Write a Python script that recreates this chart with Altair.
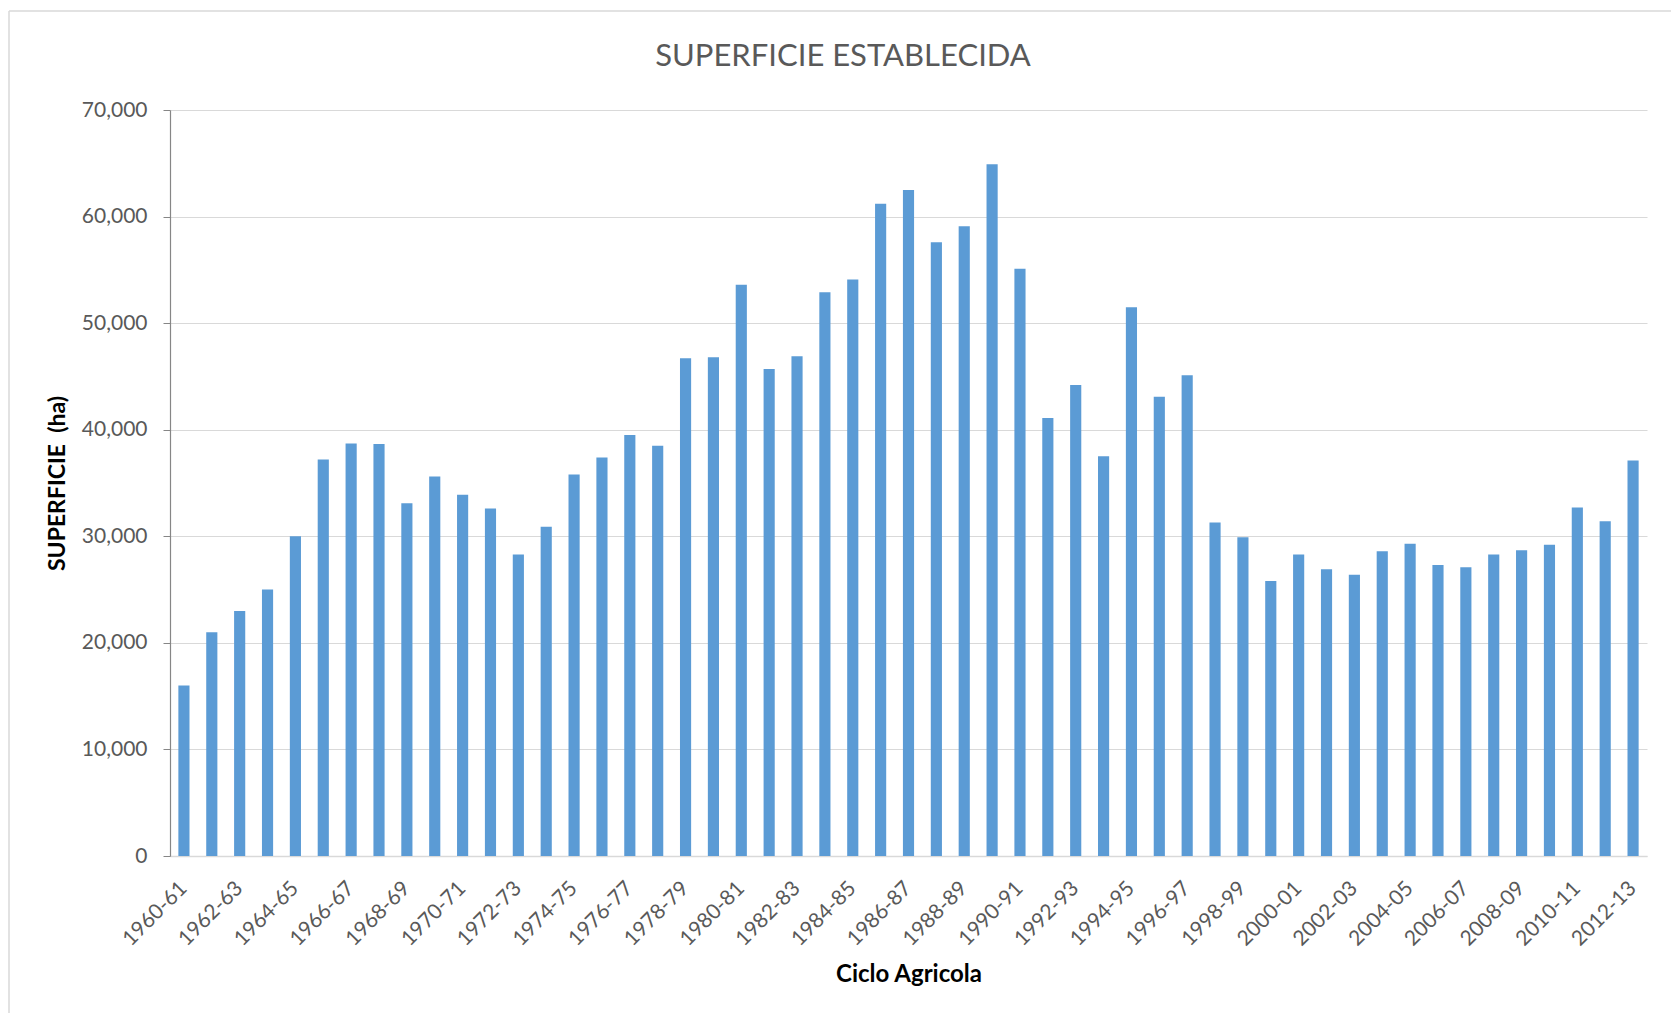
import altair as alt
import pandas as pd

ciclos = [
    "1960-61", "1961-62", "1962-63", "1963-64", "1964-65", "1965-66", "1966-67",
    "1967-68", "1968-69", "1969-70", "1970-71", "1971-72", "1972-73", "1973-74",
    "1974-75", "1975-76", "1976-77", "1977-78", "1978-79", "1979-80", "1980-81",
    "1981-82", "1982-83", "1983-84", "1984-85", "1985-86", "1986-87", "1987-88",
    "1988-89", "1989-90", "1990-91", "1991-92", "1992-93", "1993-94", "1994-95",
    "1995-96", "1996-97", "1997-98", "1998-99", "1999-00", "2000-01", "2001-02",
    "2002-03", "2003-04", "2004-05", "2005-06", "2006-07", "2007-08", "2008-09",
    "2009-10", "2010-11", "2011-12", "2012-13",
]
superficie = [
    16000, 21000, 23000, 25000, 30000, 37200, 38700, 38650, 33100, 35600,
    33900, 32600, 28300, 30900, 35800, 37400, 39500, 38500, 46700, 46800,
    53600, 45700, 46900, 52900, 54100, 61200, 62500, 57600, 59100, 64900,
    55100, 41100, 44200, 37500, 51500, 43100, 45100, 31300, 29900, 25800,
    28300, 26900, 26400, 28600, 29300, 27300, 27100, 28300, 28700, 29200,
    32700, 31400, 37100,
]
etiquetas_x = ciclos[::2]
ticks_y = [0, 10000, 20000, 30000, 40000, 50000, 60000, 70000]

titulo = "SUPERFICIE ESTABLECIDA"
titulo_x = "Ciclo Agricola"
titulo_y = "SUPERFICIE\u00a0\u00a0(ha)"

df = pd.DataFrame({"ciclo": ciclos, "superficie": superficie})

W, H = 1477, 746
FONT = "Lato"
GRAY_TXT = "#595959"

bars = alt.Chart(df).mark_bar(color="#5B9BD5").encode(
    x=alt.X(
        "ciclo:N",
        sort=ciclos,
        scale=alt.Scale(paddingInner=0.6, paddingOuter=0.3),
        axis=alt.Axis(
            values=etiquetas_x,
            labelAngle=-45,
            labelAlign="right",
            labelBaseline="middle",
            ticks=False,
            tickSize=0,
            labelPadding=29,
            labelFontSize=21,
            labelColor=GRAY_TXT,
            labelFont=FONT,
            domainColor="#D9D9D9",
            domainWidth=1.5,
            grid=False,
            title=titulo_x,
            titleX=W / 2,
            titleY=118,
            titleAlign="center",
            titleBaseline="middle",
            titleFontSize=24,
            titleFontWeight="bold",
            titleColor="#000000",
            titleFont=FONT,
        ),
    ),
    y=alt.Y(
        "superficie:Q",
        scale=alt.Scale(domain=[0, 70000], nice=False),
        axis=alt.Axis(
            values=ticks_y,
            format=",.0f",
            grid=True,
            gridColor="#D9D9D9",
            gridWidth=1.2,
            domainColor="#868686",
            domainWidth=1.2,
            tickColor="#868686",
            tickSize=7,
            labelPadding=16,
            labelFontSize=21,
            labelColor=GRAY_TXT,
            labelFont=FONT,
            title=titulo_y,
            titleAngle=-90,
            titleX=-113,
            titleY=H / 2,
            titleAlign="center",
            titleBaseline="middle",
            titleFontSize=23,
            titleFontWeight="bold",
            titleColor="#000000",
            titleFont=FONT,
        ),
    ),
)

one = alt.Data(values=[{"k": 1}])

title_mark = alt.Chart(one).mark_text(
    text=titulo, font=FONT, fontSize=31, color=GRAY_TXT, align="center", baseline="middle"
).encode(x=alt.value(673), y=alt.value(-53))

border_top = alt.Chart(one).mark_rule(color="#D9D9D9", strokeWidth=1.5).encode(
    x=alt.value(-161), x2=alt.value(W + 24), y=alt.value(-99)
)
border_left = alt.Chart(one).mark_rule(color="#D9D9D9", strokeWidth=1.5).encode(
    x=alt.value(-161), y=alt.value(-99), y2=alt.value(H + 157)
)

chart = alt.layer(border_top, border_left, bars, title_mark).properties(
    width=W,
    height=H,
    autosize=alt.AutoSizeParams(type="none"),
    padding={"left": 162, "top": 102, "right": 24, "bottom": 157},
    background="#FFFFFF",
).configure(font=FONT).configure_view(strokeOpacity=0)

chart.save("out.html", embed_options={"renderer": "svg", "actions": False})
